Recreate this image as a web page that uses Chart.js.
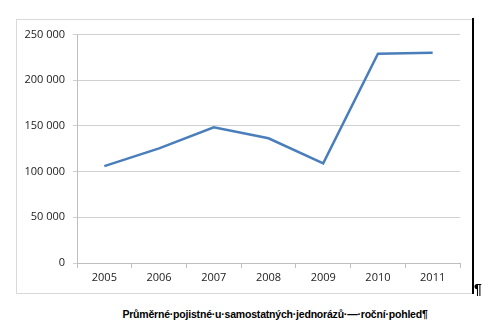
<!DOCTYPE html>
<html>
<head>
<meta charset="utf-8">
<script src="https://cdn.jsdelivr.net/npm/chart.js@4"></script>
<style>
  html, body { margin: 0; padding: 0; background: #fff; }
  body { width: 500px; height: 327px; position: relative; overflow: hidden; font-family: "Liberation Sans", Arial, sans-serif; }
  #box { position: absolute; left: 16px; top: 19px; width: 456px; height: 273px; border: 1px solid #d9d9d9; border-right: none; }
  #edge { position: absolute; left: 472px; top: 18px; width: 2px; height: 276px; background: #000; }
  #pil { position: absolute; left: 474px; top: 281px; font-size: 14px; font-weight: bold; color: #000; }
  #caption { position: absolute; left: 0; width: 550px; top: 308px; text-align: center; font-size: 10.5px; font-weight: bold; letter-spacing: -0.2px; color: #000; }
</style>
</head>
<body>
<div id="box"><canvas id="chart"></canvas></div>
<div id="edge"></div>
<div id="pil">¶</div>
<div id="caption">Průměrné·pojistné·u·samostatných·jednorázů·—·roční·pohled¶</div>
<script>
const years = ['2005', '2006', '2007', '2008', '2009', '2010', '2011'];
const premium = [106000, 125500, 148500, 136500, 109000, 229000, 230000];
const yTicks = [0, 50000, 100000, 150000, 200000, 250000];

function spaced(v) {
  return String(v).replace(/\B(?=(\d{3})+(?!\d))/g, ' ');
}

document.addEventListener('DOMContentLoaded', function() {
  const ctx = document.getElementById('chart');
  new Chart(ctx, {
    type: 'line',
    data: {
      labels: years,
      datasets: [{
        label: 'Průměrné pojistné',
        data: premium,
        borderColor: '#4a7ebb',
        borderWidth: 2.5,
        pointRadius: 0,
        tension: 0,
        fill: false
      }]
    },
    options: {
      responsive: true,
      maintainAspectRatio: false,
      animation: false,
      plugins: { legend: { display: false }, tooltip: { enabled: false } },
      layout: { padding: { left: 0, right: 13, top: 14, bottom: 0 } },
      scales: {
        x: {
          offset: true,
          grid: { offset: true, drawOnChartArea: false, drawTicks: true, tickLength: 5, color: '#bfbfbf' },
          border: { color: '#bfbfbf' },
          ticks: { color: '#222', font: { family: 'Open Sans', size: 11 }, padding: 3 },
          afterFit: function(s) { s.height = 30; }
        },
        y: {
          min: 0,
          max: 250000,
          afterBuildTicks: function(s) { s.ticks = yTicks.map(v => ({ value: v })); },
          grid: { color: '#d0d0d0', drawTicks: true, tickLength: 4 },
          border: { color: '#bfbfbf' },
          ticks: { color: '#222', font: { family: 'Open Sans', size: 11 }, padding: 8, callback: v => spaced(v) },
          afterFit: function(s) { s.width = 60; }
        }
      }
    }
  });
});
</script>
</body>
</html>
